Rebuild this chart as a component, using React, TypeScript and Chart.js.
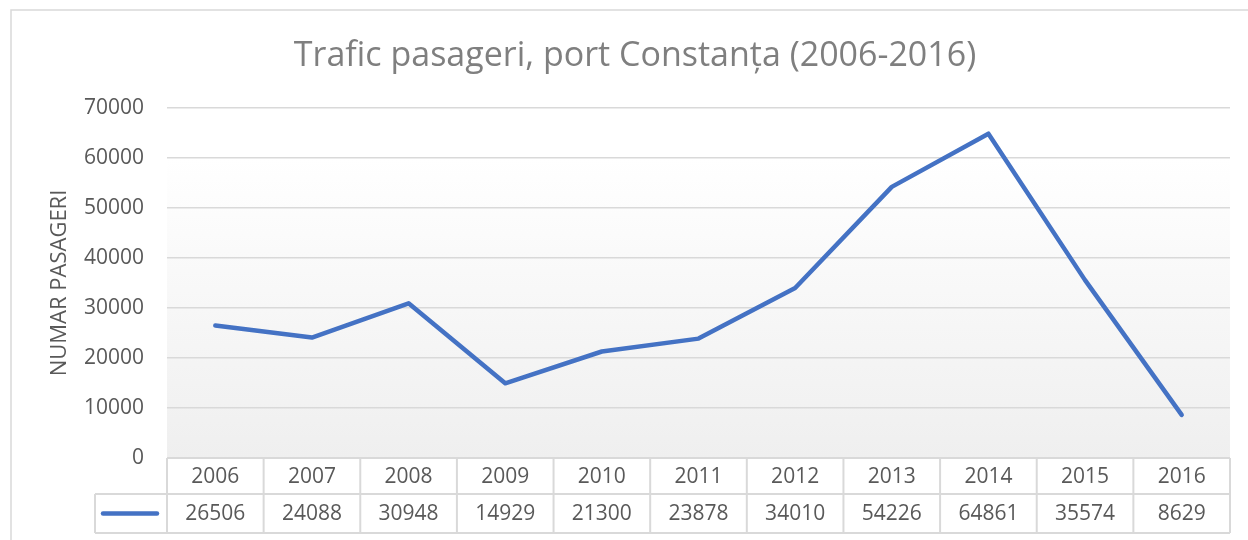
import React, { useEffect, useRef } from "react";
import { Chart, registerables } from "chart.js";

Chart.register(...registerables);

const CHART_TITLE = "Trafic pasageri, port Constanța (2006-2016)";
const Y_AXIS_TITLE = "NUMAR PASAGERI";
const YEARS = ["2006", "2007", "2008", "2009", "2010", "2011", "2012", "2013", "2014", "2015", "2016"];
const PASSENGERS = [26506, 24088, 30948, 14929, 21300, 23878, 34010, 54226, 64861, 35574, 8629];
const Y_MIN = 0;
const Y_MAX = 70000;
const Y_STEP = 10000;

const FONT = "'Open Sans', 'Noto Sans', sans-serif";
const TEXT = "#595959";
const GRID = "#d9d9d9";
const LINE = "#4472C4";

const framePlugin = {
  id: "frame",
  beforeDraw(chart: any) {
    const { ctx, chartArea, scales } = chart;
    ctx.save();
    ctx.fillStyle = "#ffffff";
    ctx.fillRect(0, 0, chart.width, chart.height);
    // outer chart border
    ctx.strokeStyle = GRID;
    ctx.lineWidth = 1.5;
    ctx.beginPath();
    ctx.moveTo(11, chart.height + 5);
    ctx.lineTo(11, 10);
    ctx.lineTo(chart.width + 5, 10);
    ctx.stroke();
    // plot area gradient
    const y60 = scales.y.getPixelForValue(60000);
    const g = ctx.createLinearGradient(0, chartArea.top, 0, chartArea.bottom);
    const s = (y60 - chartArea.top) / (chartArea.bottom - chartArea.top);
    g.addColorStop(0, "#ffffff");
    g.addColorStop(Math.max(0, Math.min(1, s)), "#ffffff");
    g.addColorStop(1, "#efefef");
    ctx.fillStyle = g;
    ctx.fillRect(chartArea.left, y60, chartArea.right - chartArea.left, chartArea.bottom - y60);
    ctx.restore();
  },
  afterDraw(chart: any) {
    const { ctx, chartArea, scales } = chart;
    const x = scales.x;
    ctx.save();
    // title
    ctx.fillStyle = "#7f7f7f";
    ctx.font = `34px ${FONT}`;
    ctx.textAlign = "center";
    ctx.textBaseline = "alphabetic";
    ctx.fillText(CHART_TITLE, 635, 66);

    // data table
    const top = chartArea.bottom;
    const mid = top + 36;
    const bot = top + 75;
    const legendLeft = 95;
    const left = chartArea.left;
    const right = chartArea.right;
    const n = YEARS.length;
    const colW = (right - left) / n;

    ctx.strokeStyle = GRID;
    ctx.lineWidth = 2;
    ctx.beginPath();
    ctx.moveTo(left, top);
    ctx.lineTo(right, top);
    ctx.moveTo(legendLeft, mid);
    ctx.lineTo(right, mid);
    ctx.moveTo(legendLeft, bot);
    ctx.lineTo(right, bot);
    ctx.moveTo(legendLeft, mid);
    ctx.lineTo(legendLeft, bot);
    for (let i = 0; i <= n; i++) {
      const xx = left + colW * i;
      ctx.moveTo(xx, top);
      ctx.lineTo(xx, bot);
    }
    ctx.stroke();

    ctx.fillStyle = TEXT;
    ctx.font = `21px ${FONT}`;
    ctx.textAlign = "center";
    ctx.textBaseline = "middle";
    YEARS.forEach((yr, i) => {
      const cx = x.getPixelForValue(i);
      ctx.fillText(yr, cx, (top + mid) / 2 + 1);
      ctx.fillText(String(PASSENGERS[i]), cx, (mid + bot) / 2 + 1);
    });

    // legend key
    ctx.strokeStyle = LINE;
    ctx.lineWidth = 4.5;
    ctx.lineCap = "round";
    ctx.beginPath();
    ctx.moveTo(legendLeft + 8, (mid + bot) / 2);
    ctx.lineTo(left - 10, (mid + bot) / 2);
    ctx.stroke();
    ctx.restore();
  },
};

export default function App() {
  const ref = useRef<HTMLCanvasElement | null>(null);
  useEffect(() => {
    if (!ref.current) return;
    const chart = new Chart(ref.current, {
      type: "line",
      data: {
        labels: YEARS,
        datasets: [
          {
            label: "Pasageri",
            data: PASSENGERS,
            borderColor: LINE,
            backgroundColor: LINE,
            borderWidth: 4.5,
            pointRadius: 0,
            borderCapStyle: "round",
            borderJoinStyle: "round",
            tension: 0,
          },
        ],
      },
      options: {
        responsive: false,
        animation: false,
        layout: { padding: { left: 0, right: 18, top: 108, bottom: 82 } },
        plugins: {
          legend: { display: false },
          title: { display: false },
          tooltip: { enabled: false },
        },
        scales: {
          x: { type: "category", offset: true, display: false },
          y: {
            min: Y_MIN,
            max: Y_MAX,
            afterFit: (s: any) => {
              s.width = 167;
            },
            ticks: {
              stepSize: Y_STEP,
              padding: 23,
              color: TEXT,
              font: { family: FONT, size: 21 },
              callback: (v: any) => String(v),
            },
            grid: {
              color: (c: any) => (c.tick && c.tick.value === 0 ? "rgba(0,0,0,0)" : GRID),
              lineWidth: 1.5,
              drawTicks: false,
            },
            border: { display: false },
            title: {
              display: true,
              text: Y_AXIS_TITLE,
              color: TEXT,
              font: { family: FONT, size: 22 },
              padding: { top: 47, bottom: 0 },
            },
          },
        },
      },
      plugins: [framePlugin],
    });
    return () => chart.destroy();
  }, []);
  return (
    <div style={{ position: "fixed", left: 0, top: 0, width: 1248, height: 540, background: "#fff" }}>
      <canvas ref={ref} width={1248} height={540} style={{ display: "block" }} />
    </div>
  );
}
